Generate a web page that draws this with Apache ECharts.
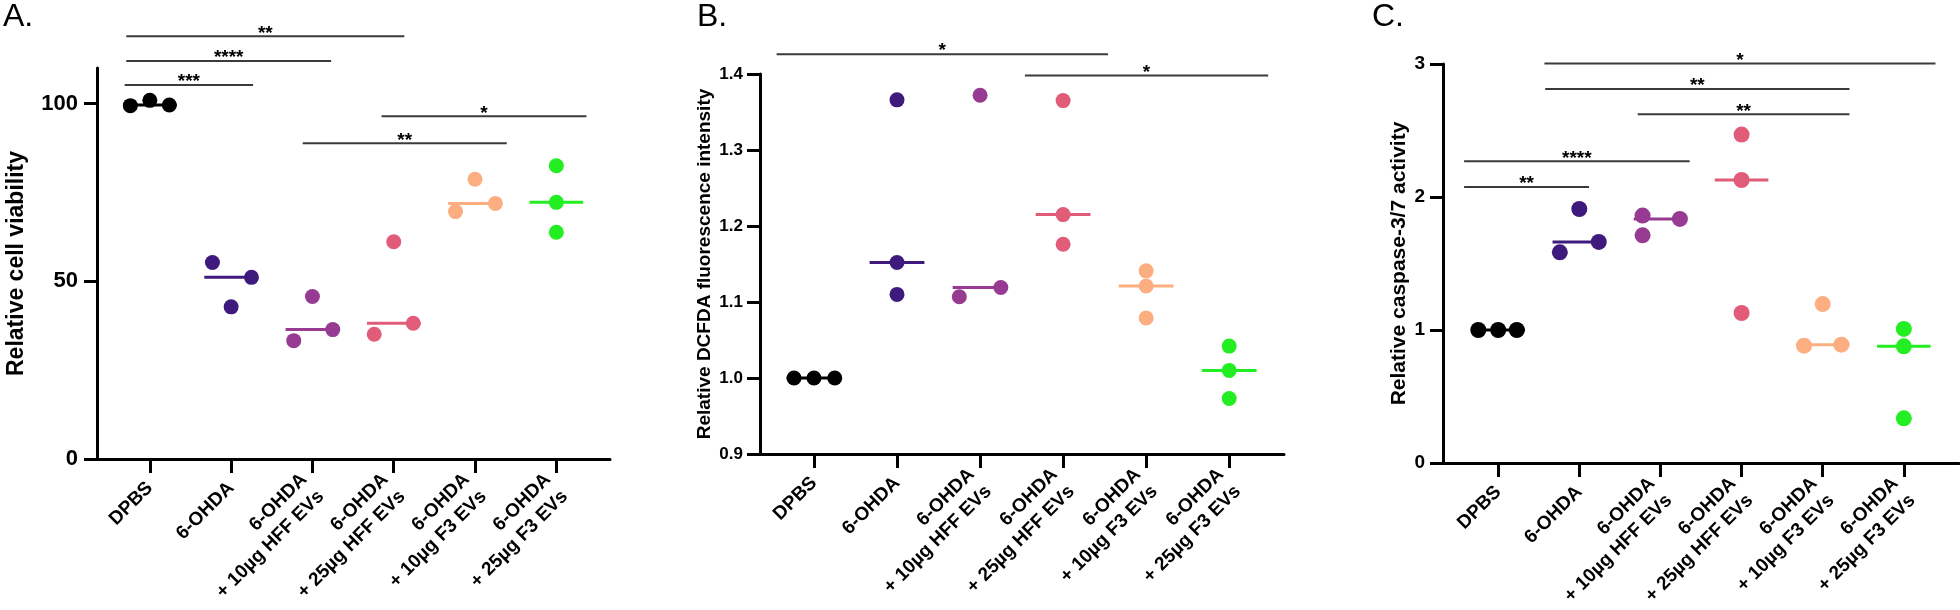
<!DOCTYPE html>
<html><head><meta charset="utf-8">
<script src="https://cdn.jsdelivr.net/npm/echarts@6/dist/echarts.min.js"></script>
<style>html,body{margin:0;padding:0;background:#fff}#c{width:1960px;height:610px}</style>
</head><body><div id="c"></div>
<script>
// ---------------- data ----------------
const categories = ['DPBS', '6-OHDA', '6-OHDA\n+ 10µg HFF EVs', '6-OHDA\n+ 25µg HFF EVs', '6-OHDA\n+ 10µg F3 EVs', '6-OHDA\n+ 25µg F3 EVs'];

// Panel A: Relative cell viability
const viabDPBS  = [99.4, 100.9, 99.6];
const viab6OHDA = [55.3, 51.1, 42.8];
const viabHFF10 = [45.7, 36.4, 33.3];
const viabHFF25 = [61.1, 38.2, 35.1];
const viabF3_10 = [78.7, 71.9, 69.6];
const viabF3_25 = [82.5, 72.2, 63.8];
const viabTicks = [0, 50, 100];
const viabSig = [[-0.29, 3.13, 118.9, '**'], [-0.29, 2.23, 112.0, '****'], [-0.31, 1.27, 105.2, '***'], [2.85, 5.37, 96.4, '*'], [1.88, 4.39, 88.8, '**']];

// Panel B: Relative DCFDA fluorescence intensity
const dcfDPBS  = [1.000, 1.000, 1.000];
const dcf6OHDA = [1.366, 1.152, 1.110];
const dcfHFF10 = [1.372, 1.119, 1.107];
const dcfHFF25 = [1.365, 1.215, 1.176];
const dcfF3_10 = [1.141, 1.121, 1.079];
const dcfF3_25 = [1.042, 1.010, 0.973];
const dcfTicks = [0.9, 1.0, 1.1, 1.2, 1.3, 1.4];
const dcfSig = [[-0.45, 3.54, 1.426, '*'], [2.54, 5.47, 1.398, '*']];

// Panel C: Relative caspase-3/7 activity
const caspDPBS  = [1.000, 1.000, 1.000];
const casp6OHDA = [1.910, 1.662, 1.584];
const caspHFF10 = [1.860, 1.835, 1.712];
const caspHFF25 = [2.469, 2.128, 1.128];
const caspF3_10 = [1.195, 0.890, 0.882];
const caspF3_25 = [1.008, 0.877, 0.336];
const caspTicks = [0, 1, 2, 3];
const caspSig = [[0.57, 5.39, 3.003, '*'], [0.58, 4.33, 2.812, '**'], [1.72, 4.33, 2.622, '**'], [-0.42, 2.36, 2.268, '****'], [-0.42, 1.12, 2.075, '**']];

// ---------------- layout / style (not data) ----------------
const FONT = '"Liberation Sans", Arial, Helvetica, sans-serif';
const COLORS = ['#000000', '#3F1A7D', '#963B91', '#E05C78', '#FCAE80', '#22EE22'];
// horizontal scatter offsets of the three replicates (Prism-style spreading)
const jitterA = [[-0.24, 0, 0.24], [-0.23, 0.25, 0], [0, 0.25, -0.23], [0, 0.24, -0.24], [0, 0.25, -0.24], [0, 0, 0]];
const jitterB = [[-0.24, 0, 0.25], [0, 0, 0], [0, 0.25, -0.25], [0, 0, 0], [0, 0, 0], [0, 0, 0]];
const jitterC = [[-0.245, 0, 0.23], [0, 0.24, -0.24], [-0.22, 0.24, -0.22], [0, 0, 0], [0, 0.23, -0.23], [0, 0, 0]];

const panels = [
  {
    groups: [viabDPBS, viab6OHDA, viabHFF10, viabHFF25, viabF3_10, viabF3_25], jitter: jitterA, sig: viabSig,
    grid: {left: 97, top: 68, width: 513, height: 391}, xMin: -0.65, xMax: 5.66,
    yMin: 0, yMax: 110, ticks: viabTicks, fmt: v => String(v), yFont: 22, yMargin: 19,
    name: 'Relative cell viability', nameSize: 23, nameGap: 69, dot: 15, title: 'A.', titleLeft: 3
  },
  {
    groups: [dcfDPBS, dcf6OHDA, dcfHFF10, dcfHFF25, dcfF3_10, dcfF3_25], jitter: jitterB, sig: dcfSig,
    grid: {left: 760, top: 74, width: 524, height: 380}, xMin: -0.65, xMax: 5.66,
    yMin: 0.9, yMax: 1.4, ticks: dcfTicks, fmt: v => Number(v).toFixed(1), yFont: 17, yMargin: 17,
    name: 'Relative DCFDA fluorescence intensity', nameSize: 19, nameGap: 46, dot: 15, title: 'B.', titleLeft: 697
  },
  {
    groups: [caspDPBS, casp6OHDA, caspHFF10, caspHFF25, caspF3_10, caspF3_25], jitter: jitterC, sig: caspSig,
    grid: {left: 1443, top: 64, width: 516, height: 399}, xMin: -0.68, xMax: 5.68,
    yMin: 0, yMax: 3, ticks: caspTicks, fmt: v => String(v), yFont: 19, yMargin: 18,
    name: 'Relative caspase-3/7 activity', nameSize: 21, nameGap: 33, dot: 16, title: 'C.', titleLeft: 1372
  }
];

function median(arr) { const s = arr.slice().sort((a, b) => a - b); return s[Math.floor(s.length / 2)]; }

const grids = [], xAxes = [], yAxes = [], series = [], titles = [];
panels.forEach((p, pi) => {
  grids.push(Object.assign({containLabel: false}, p.grid));
  titles.push({text: p.title, left: p.titleLeft, top: 1, padding: 0,
    textStyle: {fontFamily: FONT, fontSize: 32, fontWeight: 'normal', color: '#000'}});
  xAxes.push({
    type: 'value', gridIndex: pi, min: p.xMin, max: p.xMax,
    splitLine: {show: false},
    axisLine: {show: true, onZero: false, lineStyle: {color: '#000', width: 3}},
    axisTick: {show: true, customValues: [0, 1, 2, 3, 4, 5], length: 14, lineStyle: {color: '#000', width: 3}},
    axisLabel: {show: true, customValues: [0, 1, 2, 3, 4, 5], rotate: 45, margin: 26,
      formatter: v => categories[Math.round(v)], fontFamily: FONT, fontSize: 19, fontWeight: 'bold',
      color: '#000', lineHeight: 24, align: 'right'}
  });
  yAxes.push({
    type: 'value', gridIndex: pi, min: p.yMin, max: p.yMax,
    name: p.name, nameLocation: 'middle', nameRotate: 90, nameGap: p.nameGap,
    nameTextStyle: {fontFamily: FONT, fontSize: p.nameSize, fontWeight: 'bold', color: '#000'},
    splitLine: {show: false},
    axisLine: {show: true, onZero: false, lineStyle: {color: '#000', width: 3}},
    axisTick: {show: true, customValues: p.ticks, length: 13, lineStyle: {color: '#000', width: 3}},
    axisLabel: {show: true, customValues: p.ticks, margin: p.yMargin, formatter: p.fmt,
      fontFamily: FONT, fontSize: p.yFont, fontWeight: 'bold', color: '#000'}
  });
  p.groups.forEach((vals, g) => {
    // median line
    series.push({
      type: 'custom', xAxisIndex: pi, yAxisIndex: pi, z: 2, silent: true, clip: false,
      data: [[g, median(vals)]],
      renderItem: (params, api) => {
        const a = api.coord([api.value(0) - 0.33, api.value(1)]);
        const b = api.coord([api.value(0) + 0.33, api.value(1)]);
        return {type: 'line', shape: {x1: a[0], y1: a[1], x2: b[0], y2: b[1]},
          style: {stroke: COLORS[g], lineWidth: 3}};
      }
    });
    // replicate dots
    series.push({
      type: 'scatter', xAxisIndex: pi, yAxisIndex: pi, z: 3, silent: true,
      symbol: 'circle', symbolSize: p.dot,
      itemStyle: {color: COLORS[g], opacity: 1},
      data: vals.map((v, i) => [g + p.jitter[g][i], v])
    });
  });
  // significance bars
  const sig = p.sig;
  series.push({
    type: 'custom', xAxisIndex: pi, yAxisIndex: pi, z: 4, silent: true, clip: false,
    data: sig.map(s => [s[0], s[1], s[2]]),
    encode: {x: [0, 1], y: 2},
    renderItem: (params, api) => {
      const a = api.coord([api.value(0), api.value(2)]);
      const b = api.coord([api.value(1), api.value(2)]);
      return {type: 'group', children: [
        {type: 'line', shape: {x1: a[0], y1: a[1], x2: b[0], y2: b[1]}, style: {stroke: '#3a3a3a', lineWidth: 2}},
        {type: 'text', style: {text: sig[params.dataIndex][3], x: (a[0] + b[0]) / 2, y: a[1] - 3,
          fill: '#000', font: 'bold 19px ' + FONT, align: 'center', verticalAlign: 'middle'}}
      ]};
    }
  });
});

const chart = echarts.init(document.getElementById('c'), null, {renderer: 'canvas'});
chart.setOption({
  backgroundColor: '#ffffff',
  animation: false,
  title: titles,
  grid: grids,
  xAxis: xAxes,
  yAxis: yAxes,
  series: series
});
</script></body></html>
